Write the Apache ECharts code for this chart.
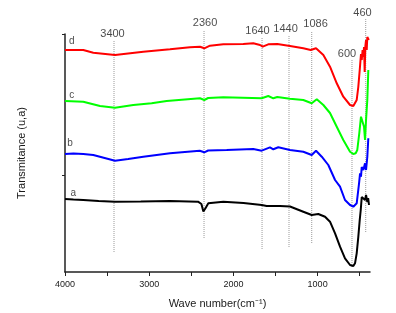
<!DOCTYPE html>
<html>
<head>
<meta charset="utf-8">
<script src="https://cdn.jsdelivr.net/npm/echarts@6/dist/echarts.min.js"></script>
<style>html,body{margin:0;padding:0;background:#fff;}#c{width:396px;height:313px;}</style>
</head>
<body>
<div id="c"></div>
<script>
// ---- data (wavenumber in cm-1, transmittance in arbitrary units) ----
const wnA = [4000,3900,3783,3600,3406,3100,2753,2420,2380,2357,2330,2298,2120,1880,1664,1605,1447,1328,1170,1070,992,912,853,793,734,675,615,576,556,536,517,500,488,476,457,437,425,410,400,390];
const vA  = [73,72.5,72,71,70.3,70.5,71,70.3,68,60.5,64,68.7,70.3,69,67,66,66,65.5,60.3,57,58,55.3,50.3,38.7,25.3,13.7,7,6,8.7,18.7,35,52,62,75,77,72,77,70,74,67];

const wnB = [4000,3900,3783,3664,3406,3250,3070,2753,2400,2346,2300,2080,1764,1664,1566,1526,1467,1328,1170,1070,1019,951,873,793,734,675,615,576,536,508,496,485,476,457,437,425,410,398];
const vB  = [118,118.5,118,117,111.3,113,115.3,118.7,121.3,119.7,121.5,122,123,121.3,124.7,122.7,124.7,122,120.3,117,121.3,115.3,107,92,85.3,72,67,65.3,68.7,88.7,98.7,95.3,105,102,108.7,102,115,133.7];

const wnC = [4000,3783,3584,3406,3189,2971,2793,2397,2346,2300,2120,1664,1586,1526,1479,1328,1170,1070,1010,932,853,773,695,615,576,548,529,505,485,464,449,437,425,410,398];
const vC  = [171,170.3,166,164.3,167,168.7,171,173.7,172,174,174.7,173.7,176,173.7,175,173.3,172,168.7,172.7,167,159,145.3,132,120.3,118,118.7,122,139,155.3,157,145.3,132,152,172,202];

const wnD = [4000,3783,3664,3406,3070,2753,2516,2397,2346,2278,2120,1883,1764,1684,1652,1586,1479,1328,1170,1082,1019,932,853,773,695,615,576,536,517,500,485,476,466,457,449,441,433,425,417,410,400,392];
const vD  = [222,222,219.3,217,220.3,222.7,224.7,225.3,223.7,226.3,227.7,228,228.7,227,225.3,227.7,228,226,223.7,222,223.7,217,205.3,188.7,175.3,167,166,172,185,202,218,212,222,215,225,200,226,232,222,235,237,232];

// x-axis ticks and labels
const xTickValues  = [500,1000,1500,2000,2500,3000,3500,4000];
const xLabelValues = [1000,2000,3000,4000];
const yTickValues  = [97,238];

// peak marker lines (position, top, bottom) and their labels
const peakText  = ['3400','2360','1640','1440','1086','600','460'];
const peakLineX = [3418,2349,1660,1340,1070,592,429];
const peakLineTop = [232,242,235,236,241,212,254];
const peakLineBot = [20,34,23,25,29,5,40];
const peakLabelX = [3436,2337,1714,1381,1025,651,467];
const peakLabelY = [238.5,249,241,243,248,218,259.5];

// curve letters
const curveNames = ['a','b','c','d'];
const curveLabelX = [3901,3941,3920,3920];
const curveLabelY = [78.7,128.7,177,231];

const zip = (xs, ys) => xs.map((x, i) => [x, ys[i]]);
const FONT = '"Liberation Sans", Arial, sans-serif';

const curveSeries = [
  {data: zip(wnA, vA), color: '#000000'},
  {data: zip(wnB, vB), color: '#0000ff'},
  {data: zip(wnC, vC), color: '#00ff00'},
  {data: zip(wnD, vD), color: '#ff0000'}
].map(s => ({
  type: 'line', data: s.data, showSymbol: false, symbol: 'none',
  lineStyle: {color: s.color, width: 2}, itemStyle: {color: s.color},
  z: 3, silent: true, animation: false
}));

const peakLineSeries = peakLineX.map((x, i) => ({
  type: 'line', data: [[x, peakLineBot[i]], [x, peakLineTop[i]]],
  showSymbol: false, symbol: 'none', clip: false,
  lineStyle: {color: '#9a9a9a', width: 1, type: [1, 1]}, z: 2, animation: false, silent: true
}));

const peakLabelSeries = {
  type: 'scatter', clip: false, symbolSize: 0, silent: true, animation: false,
  data: peakLabelX.map((x, i) => ({value: [x, peakLabelY[i]], name: peakText[i]})),
  label: {show: true, position: 'inside', formatter: p => p.name,
    fontSize: 11, fontFamily: FONT, color: '#1a1a1a'}
};

const curveLabelSeries = {
  type: 'scatter', clip: false, symbolSize: 0, silent: true, animation: false,
  data: curveLabelX.map((x, i) => ({value: [x, curveLabelY[i]], name: curveNames[i]})),
  label: {show: true, position: 'inside', formatter: p => p.name,
    fontSize: 10, fontFamily: FONT, color: '#1a1a1a'}
};

const chart = echarts.init(document.getElementById('c'), null, {renderer: 'canvas'});
chart.setOption({
  animation: false,
  backgroundColor: '#ffffff',
  grid: {left: 65, right: 26, top: 34, bottom: 41, containLabel: false, outerBoundsMode: 'none'},
  xAxis: {
    type: 'value', min: 378, max: 4000, inverse: true,
    name: 'Wave number(cm\u207B\u00B9)', nameLocation: 'middle', nameGap: 26,
    nameTextStyle: {fontSize: 11, fontFamily: FONT, color: '#1a1a1a'},
    axisLine: {show: true, onZero: false, lineStyle: {color: '#222', width: 1.5}},
    axisTick: {show: true, inside: false, length: 4, customValues: xTickValues, lineStyle: {color: '#222', width: 1}},
    axisLabel: {show: true, customValues: xLabelValues, formatter: v => String(v),
      fontSize: 9, fontFamily: FONT, color: '#1a1a1a', margin: 8},
    splitLine: {show: false}
  },
  yAxis: {
    type: 'value', min: 0, max: 238,
    name: 'Transmitance (u,a)', nameLocation: 'middle', nameGap: 38, nameRotate: 90,
    nameTextStyle: {fontSize: 11, fontFamily: FONT, color: '#1a1a1a'},
    axisLine: {show: true, onZero: false, lineStyle: {color: '#222', width: 1.5}},
    axisTick: {show: true, inside: false, length: 3, customValues: yTickValues, lineStyle: {color: '#222', width: 1}},
    axisLabel: {show: false},
    splitLine: {show: false}
  },
  series: [...peakLineSeries, ...curveSeries, peakLabelSeries, curveLabelSeries]
});
</script>
</body>
</html>
